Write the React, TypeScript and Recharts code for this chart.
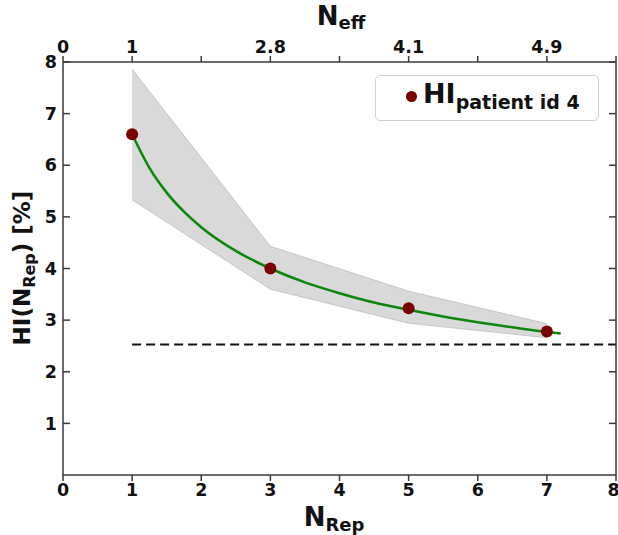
import React from 'react';
import {
  ComposedChart,
  Area,
  Line,
  Scatter,
  XAxis,
  YAxis,
} from 'recharts';

// measured replicas (bottom axis) and the matching N_eff labels (top axis)
const repX = [1, 3, 5, 7];
const hiValues = [6.6, 4.0, 3.23, 2.78];
const bandLow = [5.33, 3.6, 2.94, 2.66];
const bandHigh = [7.86, 4.43, 3.56, 2.93];
const effLabels = ['1', '2.8', '4.1', '4.9'];

// fitted curve
const fitX = [1, 1.25, 1.5, 1.75, 2, 2.5, 3, 3.5, 4, 4.5, 5, 5.5, 6, 6.5, 7, 7.2];
const fitY = [6.6, 5.95, 5.47, 5.1, 4.8, 4.34, 4.0, 3.73, 3.52, 3.34, 3.2, 3.07, 2.96, 2.86, 2.77, 2.74];

// horizontal reference level
const refX = [1, 8];
const refY = [2.53, 2.53];

const xTicks = [0, 1, 2, 3, 4, 5, 6, 7, 8];
const yTicks = [1, 2, 3, 4, 5, 6, 7, 8];

const pointData = repX.map((x, i) => ({ x, hi: hiValues[i] }));
const bandData = repX.map((x, i) => ({ x, band: [bandLow[i], bandHigh[i]] }));
const fitData = fitX.map((x, i) => ({ x, fit: fitY[i] }));
const refData = refX.map((x, i) => ({ x, ref: refY[i] }));

const topLabelMap: Record<number, string> = { 0: '0' };
repX.forEach((x, i) => {
  topLabelMap[x] = effLabels[i];
});

const FONT = '"DejaVu Sans", Verdana, sans-serif';
const AXIS = '#3a3a3a';
const tickStyle = { fill: '#111', fontSize: 17.5, fontWeight: 700, fontFamily: FONT };

export default function App() {
  return (
    <div style={{ position: 'absolute', left: 0, top: 0, width: 618, height: 535, background: '#fff' }}>
      <ComposedChart width={618} height={535} margin={{ top: 0, right: 1, bottom: 0, left: 0 }}>
        <XAxis
          xAxisId="bottom"
          dataKey="x"
          type="number"
          domain={[0, 8]}
          ticks={xTicks}
          allowDataOverflow
          height={60}
          tickSize={6}
          tickMargin={3}
          tick={tickStyle}
          stroke={AXIS}
          strokeWidth={1.5}
          label={{
            content: () => (
              <text x={334} y={526} textAnchor="middle" fontFamily={FONT} fontWeight={700} fill="#111">
                <tspan fontSize={26}>N</tspan>
                <tspan fontSize={18} dy={5}>Rep</tspan>
              </text>
            ),
          }}
        />
        <XAxis
          xAxisId="top"
          orientation="top"
          dataKey="x"
          type="number"
          domain={[0, 8]}
          ticks={xTicks}
          allowDataOverflow
          height={62}
          tickSize={6}
          tickMargin={3}
          tick={tickStyle}
          tickFormatter={(v: number) => topLabelMap[v] ?? ''}
          stroke={AXIS}
          strokeWidth={1.5}
          label={{
            content: () => (
              <text x={341} y={25} textAnchor="middle" fontFamily={FONT} fontWeight={700} fill="#111">
                <tspan fontSize={26}>N</tspan>
                <tspan fontSize={18} dy={4}>eff</tspan>
              </text>
            ),
          }}
        />
        <YAxis
          yAxisId="left"
          type="number"
          domain={[0, 8]}
          ticks={yTicks}
          allowDataOverflow
          width={63}
          tickSize={-7}
          tickMargin={13}
          tick={tickStyle}
          stroke={AXIS}
          strokeWidth={1.5}
          label={{
            content: () => (
              <text
                x={22}
                y={268}
                transform="rotate(-90, 22, 268)"
                textAnchor="middle"
                fontFamily={FONT}
                fontWeight={700}
                fill="#111"
              >
                <tspan fontSize={23} dy={8}>HI(N</tspan>
                <tspan fontSize={16} dy={5}>Rep</tspan>
                <tspan fontSize={23} dy={-5}>) [%]</tspan>
              </text>
            ),
          }}
        />
        <YAxis
          yAxisId="right"
          orientation="right"
          type="number"
          domain={[0, 8]}
          ticks={yTicks}
          allowDataOverflow
          width={1}
          tickSize={-7}
          tickFormatter={() => ''}
          stroke={AXIS}
          strokeWidth={1.5}
        />
        <Area
          data={bandData}
          xAxisId="bottom"
          yAxisId="left"
          dataKey="band"
          type="linear"
          fill="#d9d9d9"
          fillOpacity={1}
          stroke="#c6c6c6"
          strokeWidth={1}
          isAnimationActive={false}
        />
        <Line
          data={refData}
          xAxisId="top"
          yAxisId="right"
          dataKey="ref"
          type="linear"
          stroke="#111"
          strokeWidth={2}
          strokeDasharray="9 5"
          dot={false}
          isAnimationActive={false}
        />
        <Line
          data={fitData}
          xAxisId="bottom"
          yAxisId="left"
          dataKey="fit"
          type="monotone"
          stroke="#0a870a"
          strokeWidth={2.5}
          dot={false}
          isAnimationActive={false}
        />
        <Scatter
          data={pointData}
          xAxisId="bottom"
          yAxisId="left"
          dataKey="hi"
          fill="#7a0000"
          shape={(p: any) => <circle cx={p.cx} cy={p.cy} r={6} fill="#7a0000" />}
          isAnimationActive={false}
        />
      </ComposedChart>
      <div
        style={{
          position: 'absolute',
          left: 375,
          top: 75,
          width: 224,
          height: 46,
          border: '1px solid #d0d0d0',
          borderRadius: 5,
          background: '#fff',
          boxSizing: 'border-box',
          display: 'flex',
          alignItems: 'center',
          fontFamily: FONT,
          fontWeight: 700,
          color: '#111',
        }}
      >
        <span
          style={{
            display: 'inline-block',
            width: 11,
            height: 11,
            borderRadius: '50%',
            background: '#7a0000',
            marginLeft: 30,
            marginRight: 6,
            marginTop: -4,
          }}
        />
        <span style={{ fontSize: 27, lineHeight: '27px' }}>
          HI<sub style={{ fontSize: 19, verticalAlign: -6 }}>patient id 4</sub>
        </span>
      </div>
    </div>
  );
}
